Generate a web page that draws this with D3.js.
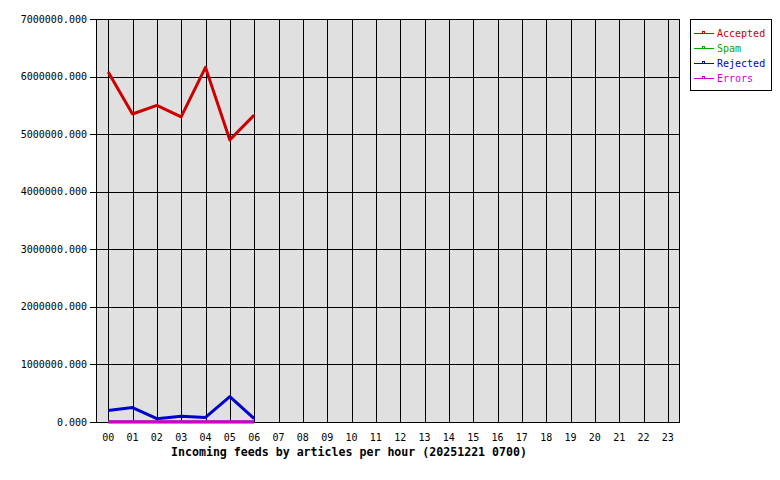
<!DOCTYPE html>
<html><head><meta charset="utf-8">
<script src="https://cdn.jsdelivr.net/npm/d3@7"></script>
<style>body{margin:0;background:#fff}svg{display:block}</style>
</head><body>
<svg id="c" width="780" height="480"></svg>
<script>
const hours = ["00","01","02","03","04","05","06","07","08","09","10","11","12","13","14","15","16","17","18","19","20","21","22","23"];
const yTicks = [0,1000000,2000000,3000000,4000000,5000000,6000000,7000000];
const accepted = [6080000,5350000,5500000,5300000,6160000,4900000,5330000];
const spam = [0,0,0,0,0,0,0];
const rejected = [200000,250000,58000,100000,80000,440000,57000];
const errors = [5000,5000,5000,5000,5000,5000,5000];
const seriesNames = ["Accepted","Spam","Rejected","Errors"];
const seriesColors = ["#cc0000","#00aa00","#0000cc","#cc00cc"];
const title = "Incoming feeds by articles per hour (20251221 0700)";

const svg = d3.select("#c");
const L=96,R=680,T=19,B=422;
const x = d3.scaleBand().domain(hours).range([L,R]);
const xc = h => x(h)+x.bandwidth()/2;
const y = d3.scaleLinear().domain([0,7000000]).range([B,T]);
const font = "'DejaVu Sans Mono', monospace";

svg.append("rect").attr("x",L).attr("y",T).attr("width",R-L).attr("height",B-T).attr("fill","#e0e0e0");
// grid
svg.append("g").selectAll("line").data(hours).join("line")
  .attr("x1",d=>xc(d)+0.5).attr("x2",d=>xc(d)+0.5).attr("y1",T).attr("y2",B)
  .attr("stroke","#000").attr("stroke-width",1).attr("shape-rendering","crispEdges");
svg.append("g").selectAll("line").data(yTicks).join("line")
  .attr("x1",L-6).attr("x2",R).attr("y1",d=>Math.round(y(d))+0.5).attr("y2",d=>Math.round(y(d))+0.5)
  .attr("stroke","#000").attr("stroke-width",1).attr("shape-rendering","crispEdges");
// frame
svg.append("rect").attr("x",L+0.5).attr("y",T+0.5).attr("width",R-L-1).attr("height",B-T)
  .attr("fill","none").attr("stroke","#000").attr("shape-rendering","crispEdges");

// y labels
svg.append("g").selectAll("text").data(yTicks).join("text")
  .attr("x",87).attr("y",d=>y(d)).attr("dy","0.35em").attr("text-anchor","end")
  .attr("font-family",font).attr("font-size","10px").attr("fill","#000")
  .text(d=>d3.format(".3f")(d));
// x labels
svg.append("g").selectAll("text").data(hours).join("text")
  .attr("x",d=>xc(d)).attr("y",441).attr("text-anchor","middle")
  .attr("font-family",font).attr("font-size","10px").attr("fill","#000").text(d=>d);
svg.append("text").attr("x",349).attr("y",456).attr("text-anchor","middle")
  .attr("font-family",font).attr("font-size","11.6px").attr("font-weight","bold").text(title);

// series
const data = [accepted,spam,rejected,errors];
const line = d3.line().x((d,i)=>xc(hours[i])).y(d=>y(d));
[1,0,2,3].forEach(k=>{
  svg.append("path").attr("d",line(data[k])).attr("fill","none")
    .attr("stroke",seriesColors[k]).attr("stroke-width",3).attr("stroke-linejoin","round");
});

// legend
const lg = svg.append("g");
lg.append("rect").attr("x",690.5).attr("y",19.5).attr("width",81).attr("height",71)
  .attr("fill","#fff").attr("stroke","#000").attr("shape-rendering","crispEdges");
seriesNames.forEach((n,i)=>{
  const yy = 33 + i*15;
  lg.append("line").attr("x1",694).attr("x2",714).attr("y1",yy+0.5).attr("y2",yy+0.5)
    .attr("stroke",seriesColors[i]).attr("shape-rendering","crispEdges");
  lg.append("rect").attr("x",702.5).attr("y",yy-1.5).attr("width",2).attr("height",2)
    .attr("fill","none").attr("stroke",seriesColors[i]).attr("shape-rendering","crispEdges");
  lg.append("text").attr("x",717).attr("y",yy).attr("dy","0.35em")
    .attr("font-family",font).attr("font-size","10px").attr("fill",seriesColors[i]).text(n);
});
</script>
</body></html>
